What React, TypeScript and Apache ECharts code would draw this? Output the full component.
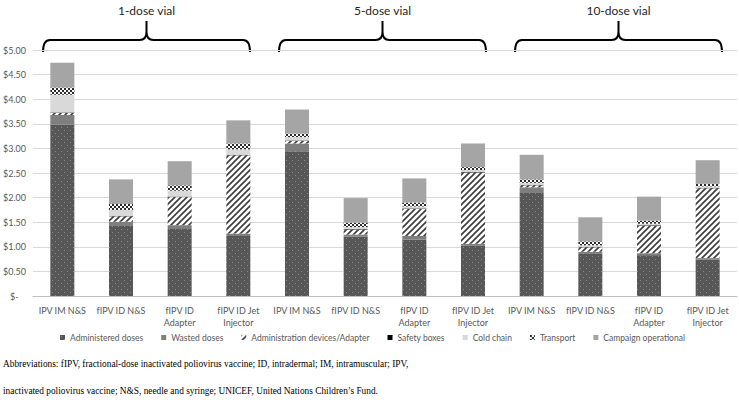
import React, { useEffect, useRef } from "react";
import * as echarts from "echarts";

const categories = [
  "IPV IM N&S", "fIPV ID N&S", "fIPV ID\nAdapter", "fIPV ID Jet\nInjector",
  "IPV IM N&S", "fIPV ID N&S", "fIPV ID\nAdapter", "fIPV ID Jet\nInjector",
  "IPV IM N&S", "fIPV ID N&S", "fIPV ID\nAdapter", "fIPV ID Jet\nInjector",
];
const administered = [3.48, 1.44, 1.36, 1.22, 2.94, 1.21, 1.15, 1.02, 2.11, 0.87, 0.83, 0.74];
const wasted = [0.2, 0.07, 0.08, 0.05, 0.16, 0.04, 0.07, 0.04, 0.1, 0.03, 0.04, 0.03];
const devices = [0.04, 0.11, 0.57, 1.59, 0.05, 0.1, 0.55, 1.45, 0.04, 0.09, 0.56, 1.42];
const safetyBoxes = [0.01, 0.01, 0.01, 0.01, 0.01, 0.01, 0.01, 0.01, 0.01, 0.01, 0.01, 0.01];
const coldChain = [0.36, 0.12, 0.12, 0.11, 0.07, 0.04, 0.04, 0.04, 0.04, 0.03, 0.03, 0.03];
const transport = [0.15, 0.12, 0.11, 0.12, 0.07, 0.09, 0.08, 0.06, 0.07, 0.08, 0.06, 0.05];
const campaign = [0.5, 0.5, 0.49, 0.47, 0.49, 0.5, 0.49, 0.48, 0.5, 0.49, 0.49, 0.48];
const seriesNames = [
  "Administered doses", "Wasted doses", "Administration devices/Adapter",
  "Safety boxes", "Cold chain", "Transport", "Campaign operational",
];
const vialGroups = ["1-dose vial", "5-dose vial", "10-dose vial"];
const footnotes = [
  "Abbreviations: fIPV, fractional-dose inactivated poliovirus vaccine; ID, intradermal; IM, intramuscular; IPV,",
  "inactivated poliovirus vaccine; N&S, needle and syringe; UNICEF, United Nations Children\u2019s Fund.",
];

function makePattern(w: number, h: number, draw: (ctx: CanvasRenderingContext2D) => void) {
  const c = document.createElement("canvas");
  c.width = w;
  c.height = h;
  const ctx = c.getContext("2d") as CanvasRenderingContext2D;
  draw(ctx);
  return { image: c, repeat: "repeat", imageWidth: w, imageHeight: h } as any;
}

export default function App() {
  const ref = useRef<HTMLDivElement>(null);
  useEffect(() => {
    if (!ref.current) return;
    const chart = echarts.init(ref.current, null, { renderer: "svg" });

    const dotted = makePattern(6, 6, (ctx) => {
      ctx.fillStyle = "#575757";
      ctx.fillRect(0, 0, 6, 6);
      ctx.fillStyle = "#8a8a8a";
      ctx.fillRect(1, 1, 1, 1);
      ctx.fillRect(4, 4, 1, 1);
    });
    const hatch = makePattern(6, 6, (ctx) => {
      ctx.fillStyle = "#ffffff";
      ctx.fillRect(0, 0, 6, 6);
      ctx.strokeStyle = "#3c3c3c";
      ctx.lineWidth = 1.6;
      ctx.beginPath();
      ctx.moveTo(-1, 7);
      ctx.lineTo(7, -1);
      ctx.moveTo(-2, 2);
      ctx.lineTo(2, -2);
      ctx.moveTo(4, 8);
      ctx.lineTo(8, 4);
      ctx.stroke();
    });
    const checker = makePattern(4, 4, (ctx) => {
      ctx.fillStyle = "#ffffff";
      ctx.fillRect(0, 0, 4, 4);
      ctx.fillStyle = "#2a2a2a";
      ctx.fillRect(0, 0, 2, 2);
      ctx.fillRect(2, 2, 2, 2);
    });

    const colors: any[] = [dotted, "#7f7f7f", hatch, "#000000", "#d9d9d9", checker, "#a5a5a5"];
    const dataArrays = [administered, wasted, devices, safetyBoxes, coldChain, transport, campaign];

    const braceD =
      "M0 31 Q0 19 7 19 L96.5 19 Q103.5 19 103.5 11 L103.5 0 L103.5 11 Q103.5 19 110.5 19 L200 19 Q207 19 207 31";
    echarts.graphic.registerShape("brace", echarts.graphic.extendPath(braceD, {}) as any);
    const braceX = [43, 279, 515];

    const graphic: any[] = [];
    braceX.forEach((bx, i) => {
      graphic.push({
        type: "brace",
        x: bx,
        y: 21,
        style: { stroke: "#000", lineWidth: 2, fill: null },
      });
      graphic.push({
        type: "text",
        x: bx + 103.5,
        y: 10,
        style: {
          text: vialGroups[i],
          font: "12px Lato",
          fill: "#262626",
          textAlign: "center",
          textVerticalAlign: "middle",
        },
      });
    });
    footnotes.forEach((t, i) => {
      graphic.push({
        type: "text",
        x: 3,
        y: 363 + i * 27,
        scaleX: 0.89,
        style: {
          text: t,
          font: "10.5px 'Liberation Serif'",
          fill: "#000",
          textAlign: "left",
          textVerticalAlign: "middle",
        },
      });
    });

    chart.setOption({
      animation: false,
      color: colors,
      grid: { left: 33, right: 2, top: 50, bottom: 109, containLabel: false },
      legend: {
        left: 60,
        top: 333,
        width: 678,
        padding: 0,
        icon: "rect",
        itemWidth: 5,
        itemHeight: 5,
        itemGap: 18,
        textStyle: { fontSize: 8.5, color: "#595959", fontFamily: "Lato" },
        data: seriesNames,
      },
      xAxis: {
        type: "category",
        data: categories,
        axisTick: { show: false },
        axisLine: { lineStyle: { color: "#bfbfbf" } },
        axisLabel: {
          interval: 0,
          fontSize: 9,
          lineHeight: 12,
          color: "#595959",
          fontFamily: "Lato",
          margin: 8,
        },
      },
      yAxis: {
        type: "value",
        min: 0,
        max: 5,
        interval: 0.5,
        axisLine: { show: false },
        axisTick: { show: false },
        splitLine: { lineStyle: { color: "#d9d9d9" } },
        axisLabel: {
          align: "left",
          margin: 30,
          fontSize: 9,
          color: "#595959",
          fontFamily: "Lato",
          formatter: (v: number) => (v === 0 ? "   $-" : "$" + v.toFixed(2)),
        },
      },
      series: seriesNames.map((name, i) => ({
        name,
        type: "bar",
        stack: "total",
        barWidth: 24,
        data: dataArrays[i],
        itemStyle: { color: colors[i] },
      })),
      graphic,
    });
    return () => chart.dispose();
  }, []);
  return (
    <div
      ref={ref}
      style={{ position: "fixed", left: 0, top: 0, width: 739, height: 405, background: "#fff" }}
    />
  );
}
